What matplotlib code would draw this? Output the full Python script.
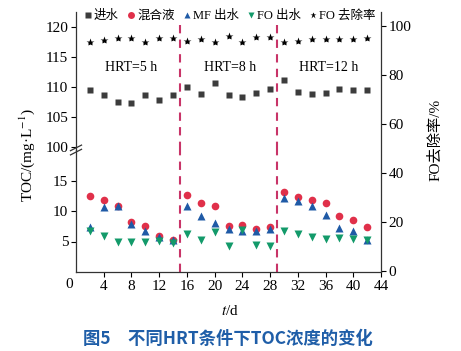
import matplotlib
matplotlib.use("Agg")
import matplotlib.pyplot as plt
from matplotlib.lines import Line2D

plt.rcParams['font.family'] = ['Liberation Serif', 'Noto Sans CJK SC']
plt.rcParams['mathtext.fontset'] = 'stix'
plt.rcParams['axes.unicode_minus'] = False

days = [2, 4, 6, 8, 10, 12, 14, 16, 18, 20, 22, 24, 26, 28, 30, 32, 34, 36, 38, 40, 42]
influent = [109.5, 108.6, 107.5, 107.4, 108.7, 107.9, 108.6, 110.0, 108.8, 110.6, 108.6, 108.4,
            109.0, 109.6, 111.2, 109.2, 108.9, 109.0, 109.7, 109.5, 109.55]
mixed = [12.4, 11.8, 10.9, 8.2, 7.6, 5.9, 5.3, 12.6, 11.3, 10.9, 7.5, 7.7, 7.1, 7.3,
         13.1, 12.3, 11.8, 11.3, 9.2, 8.6, 7.4]
mf_eff = [7.3, 10.7, 10.8, 7.9, 6.7, 5.8, 5.2, 10.8, 9.2, 8.1, 7.1, 6.8, 6.8, 7.1,
          12.1, 11.6, 10.9, 9.4, 7.2, 6.7, 5.2]
fo_eff = [6.7, 5.9, 4.9, 5.0, 5.0, 5.1, 4.8, 6.3, 5.2, 6.6, 4.2, 6.9, 4.5, 4.3,
          6.7, 6.3, 5.7, 5.4, 5.6, 5.4, 5.2]
removal = [93.6, 94.3, 95.0, 95.0, 93.6, 95.0, 95.0, 94.0, 94.6, 93.6, 96.0, 93.3, 95.4, 95.4,
           93.6, 94.0, 94.6, 94.7, 94.7, 94.7, 94.9]
hrt_bounds = [15, 29]
hrt_labels = ["HRT=5 h", "HRT=8 h", "HRT=12 h"]
hrt_label_x = [7.9, 22.2, 36.5]
xticks = [4, 8, 12, 16, 20, 24, 28, 32, 36, 40, 44]

c_in = '#3c3c3c'
c_mix = '#e0304a'
c_mf = '#1f5aa6'
c_fo = '#139a6a'
c_dash = '#c83468'

W, H = 461, 351
fig = plt.figure(figsize=(W / 100, H / 100), dpi=100)
L, R = 76 / W, 381 / W
yb0, ybrk, ytop = 1 - 272 / H, 1 - 150 / H, 1 - 12 / H

ax_bot = fig.add_axes([L, yb0, R - L, ybrk - yb0])
ax_top = fig.add_axes([L, ybrk, R - L, ytop - ybrk])
ax_r = fig.add_axes([L, yb0, R - L, ytop - yb0])
ax_r.patch.set_alpha(0)

ms = 5
for ax in (ax_bot, ax_top):
    ax.plot(days, influent, 's', color=c_in, ms=ms, mec='none')
    ax.plot(days, mixed, 'o', color=c_mix, ms=ms + 0.5, mec='none')
    ax.plot(days, mf_eff, '^', color=c_mf, ms=ms + 0.5, mec='none')
    ax.plot(days, fo_eff, 'v', color=c_fo, ms=ms + 0.5, mec='none')
    ax.set_xlim(0, 44)
    for s in ('top', 'right'):
        ax.spines[s].set_visible(False)
ax_r.plot(days, removal, '*', color='black', ms=ms + 1, mec='none')

ax_bot.set_ylim(0, 20)
ax_top.set_ylim(99.5, 122.5)
ax_r.set_ylim(-0.4, 105.7)
ax_r.set_xlim(0, 44)

for b in hrt_bounds:
    ax_bot.axvline(b, color=c_dash, lw=1.5, ls=(0, (4, 3)))
    ax_top.axvline(b, ymin=0, ymax=(120.4 - 99.5) / 23.0, color=c_dash, lw=1.5, ls=(0, (4, 3)))

for x, t in zip(hrt_label_x, hrt_labels):
    ax_top.text(x, 113.3, t, ha='center', va='center', fontsize=10)

ax_top.spines['bottom'].set_visible(False)
ax_top.set_xticks([])
ax_top.set_yticks([100, 105, 110, 115, 120])
ax_bot.set_yticks([5, 10, 15])
ax_bot.set_xticks(xticks)
ax_bot.annotate('0', xy=(0, 0), xycoords='data', xytext=(-5, -4), textcoords='offset points',
                ha='center', va='top', fontsize=11)

for s in ('top', 'left', 'bottom'):
    ax_r.spines[s].set_visible(False)
ax_r.set_xticks([])
ax_r.yaxis.tick_right()
ax_r.set_yticks([0, 20, 40, 60, 80, 100])

for ax in (ax_bot, ax_top, ax_r):
    ax.tick_params(labelsize=11, length=3.5, width=0.8, pad=2)
    for s in ax.spines.values():
        s.set_linewidth(0.9)
        s.set_color('#333333')

# break marks on left spine
bx = L
by = ybrk
for dy in (-0.006, 0.006):
    fig.add_artist(Line2D([bx - 0.012, bx + 0.012], [by + dy - 0.008, by + dy + 0.008],
                          transform=fig.transFigure, color='#333333', lw=0.9))

fig.text(27 / W, 1 - 155 / H, 'TOC/(mg·L$^{-1}$)', rotation=90, ha='center', va='center', fontsize=11)
fig.text(435 / W, 1 - 140 / H, 'FO去除率/%', rotation=90, ha='center', va='center', fontsize=11)
fig.text(230 / W, 1 - 311 / H, '$t$/d', ha='center', va='center', fontsize=11)
fig.text(228 / W, 1 - 339 / H, '图5\u2003不同HRT条件下TOC浓度的变化', ha='center', va='center',
         fontsize=12.5, color='#1f5ea8', fontweight='bold', family=['Noto Sans CJK SC'])

handles = [
    Line2D([], [], ls='none', marker='s', color=c_in, ms=ms, mec='none'),
    Line2D([], [], ls='none', marker='o', color=c_mix, ms=ms, mec='none'),
    Line2D([], [], ls='none', marker='^', color=c_mf, ms=ms, mec='none'),
    Line2D([], [], ls='none', marker='v', color=c_fo, ms=ms, mec='none'),
    Line2D([], [], ls='none', marker='*', color='black', ms=ms, mec='none'),
]
labels = ['进水', '混合液', 'MF 出水', 'FO 出水', 'FO 去除率']
fig.legend(handles, labels, loc='center', bbox_to_anchor=(230 / W, 1 - 16 / H), ncol=5,
           frameon=False, fontsize=9, handlelength=0.6, handletextpad=0.15,
           columnspacing=0.7, borderpad=0, borderaxespad=0)

fig.savefig('out.png', dpi=100)
